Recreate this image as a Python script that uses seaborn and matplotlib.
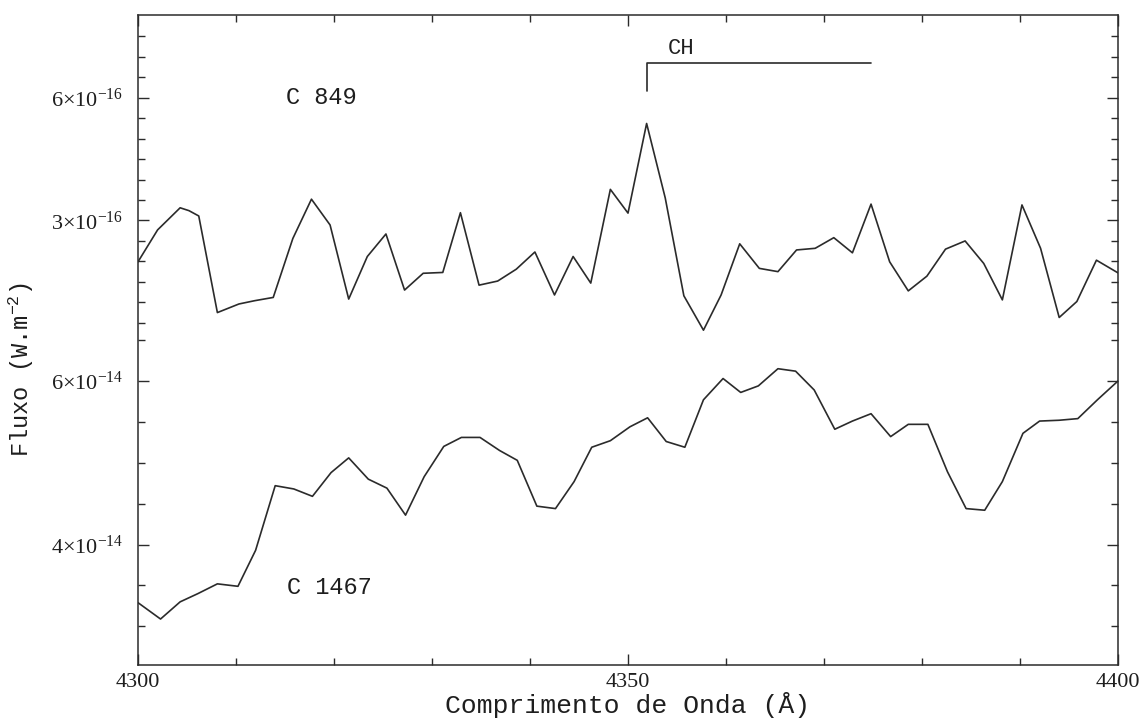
import numpy as np
import pandas as pd
import matplotlib
matplotlib.use("Agg")
import matplotlib.pyplot as plt
import seaborn as sns

# ---------------- data ----------------
# C 849 (upper spectrum), flux in units of 1e-16 W m^-2
wl_c849 = [4300.0, 4302.0, 4304.3, 4305.2, 4306.2, 4308.1, 4310.3, 4311.9, 4313.8,
           4315.8, 4317.7, 4319.6, 4321.5, 4323.4, 4325.3, 4327.2, 4329.1, 4331.1,
           4332.9, 4334.8, 4336.7, 4338.6, 4340.5, 4342.5, 4344.4, 4346.2, 4348.2,
           4350.0, 4351.9, 4353.8, 4355.7, 4357.7, 4359.5, 4361.4, 4363.4, 4365.3,
           4367.2, 4369.1, 4371.0, 4372.9, 4374.8, 4376.7, 4378.6, 4380.5, 4382.4,
           4384.4, 4386.3, 4388.2, 4390.2, 4392.1, 4394.0, 4395.8, 4397.8, 4400.0]
flux_c849 = [1.99, 2.77, 3.31, 3.24, 3.11, 0.75, 0.96, 1.04, 1.12,
             2.56, 3.52, 2.89, 1.08, 2.12, 2.67, 1.30, 1.71, 1.73,
             3.19, 1.42, 1.52, 1.81, 2.23, 1.18, 2.12, 1.47, 3.76,
             3.18, 5.37, 3.55, 1.16, 0.32, 1.18, 2.43, 1.83, 1.75,
             2.28, 2.32, 2.58, 2.21, 3.40, 1.99, 1.28, 1.64, 2.30,
             2.50, 1.95, 1.06, 3.38, 2.32, 0.63, 1.02, 2.03, 1.72]

# C 1467 (lower spectrum), flux in units of 1e-14 W m^-2
wl_c1467 = [4300.0, 4302.3, 4304.3, 4306.1, 4308.1, 4310.2, 4312.0, 4314.0, 4315.9,
            4317.8, 4319.7, 4321.5, 4323.5, 4325.4, 4327.3, 4329.2, 4331.2, 4333.0,
            4334.9, 4336.9, 4338.7, 4340.7, 4342.6, 4344.5, 4346.3, 4348.2, 4350.2,
            4352.0, 4353.9, 4355.8, 4357.7, 4359.7, 4361.5, 4363.3, 4365.3, 4367.1,
            4369.0, 4371.1, 4372.9, 4374.8, 4376.8, 4378.6, 4380.6, 4382.6, 4384.5,
            4386.4, 4388.2, 4390.3, 4392.0, 4394.0, 4395.9, 4397.9, 4400.0]
flux_c1467 = [3.29, 3.09, 3.30, 3.40, 3.52, 3.49, 3.93, 4.72, 4.68,
              4.59, 4.88, 5.06, 4.80, 4.69, 4.36, 4.83, 5.20, 5.31,
              5.31, 5.15, 5.03, 4.47, 4.44, 4.77, 5.19, 5.27, 5.44,
              5.55, 5.26, 5.19, 5.77, 6.03, 5.86, 5.94, 6.15, 6.12,
              5.89, 5.41, 5.51, 5.60, 5.32, 5.47, 5.47, 4.89, 4.44,
              4.42, 4.77, 5.36, 5.51, 5.52, 5.54, 5.77, 6.00]

# CH band marker (wavelength range) and labels
ch_band = [4351.9, 4374.8]
star_labels = ["C 849", "C 1467"]

x_major = [4300, 4350, 4400]
x_major_labels = ["4300", "4350", "4400"]
upper_major = [3e-16, 6e-16]
upper_major_labels = [r"$3{\times}10^{-16}$", r"$6{\times}10^{-16}$"]
lower_major = [4e-14, 6e-14]
lower_major_labels = [r"$4{\times}10^{-14}$", r"$6{\times}10^{-14}$"]

# ---------------- style ----------------
sns.set_theme(style="ticks")
plt.rcParams["font.family"] = ["Liberation Serif", "DejaVu Serif"]
plt.rcParams["mathtext.fontset"] = "stix"
LINE = "#2b2b2b"
TXT = "#1e1e1e"
mono = ["Liberation Mono", "DejaVu Sans Mono"]

fig = plt.figure(figsize=(11.46, 7.24), dpi=100)
fig.patch.set_facecolor("white")
pos = [138 / 1146, 59 / 724, (1118 - 138) / 1146, (665 - 15) / 724]
ax_low = fig.add_axes(pos)
ax_up = fig.add_axes(pos, sharex=ax_low)
ax_up.patch.set_visible(False)
for s in ax_up.spines.values():
    s.set_visible(False)
for s in ax_low.spines.values():
    s.set_color(LINE)
    s.set_linewidth(1.1)

df_low = pd.DataFrame({"wl": wl_c1467, "flux": np.array(flux_c1467) * 1e-14})
df_up = pd.DataFrame({"wl": wl_c849, "flux": np.array(flux_c849) * 1e-16})

sns.lineplot(data=df_low, x="wl", y="flux", ax=ax_low, color=LINE, lw=1.2,
             estimator=None, sort=False)
sns.lineplot(data=df_up, x="wl", y="flux", ax=ax_up, color=LINE, lw=1.2,
             estimator=None, sort=False)

ax_low.set_xlim(4300, 4400)
ax_low.set_ylim(2.528e-14, 10.474e-14)
ax_up.set_ylim(-7.86e-16, 8.02e-16)

# x ticks
ax_low.set_xticks(x_major, labels=x_major_labels)
ax_low.set_xticks(np.arange(4310, 4400, 10), minor=True)
ax_low.tick_params(axis="x", which="both", direction="in", top=True, bottom=True,
                   color=LINE, width=1.0, labelsize=16, pad=6)
ax_low.tick_params(axis="x", which="major", length=8)
ax_low.tick_params(axis="x", which="minor", length=5)

# lower y ticks
ax_low.set_yticks(lower_major, labels=lower_major_labels)
ax_low.set_yticks([3.0e-14, 3.5e-14, 4.5e-14, 5.0e-14, 5.5e-14, 6.5e-14], minor=True)
ax_low.tick_params(axis="y", which="both", direction="in", left=True, right=True,
                   color=LINE, width=1.0, labelsize=16, pad=11)
ax_low.tick_params(axis="y", which="major", length=8)
ax_low.tick_params(axis="y", which="minor", length=5)

# upper y ticks
ax_up.set_yticks(upper_major, labels=upper_major_labels)
ax_up.set_yticks([v * 1e-16 for v in [0.5, 1.0, 1.5, 2.0, 2.5, 3.5, 4.0, 4.5, 5.0, 5.5, 6.5, 7.0, 7.5]],
                 minor=True)
ax_up.tick_params(axis="y", which="both", direction="in", left=True, right=True,
                  color=LINE, width=1.0, labelsize=16, pad=11)
ax_up.tick_params(axis="y", which="major", length=8)
ax_up.tick_params(axis="y", which="minor", length=5)
ax_up.tick_params(axis="x", which="both", bottom=False, top=False,
                  labelbottom=False, labeltop=False)

for ax in (ax_low, ax_up):
    for lab in ax.get_xticklabels() + ax.get_yticklabels():
        lab.set_color(TXT)

plt.rcParams["mathtext.default"] = "regular"
ax_up.set_xlabel("")
ax_up.set_ylabel("")
ax_low.set_xlabel("Comprimento de Onda (Å)", family=mono, fontsize=19,
                  color=TXT, labelpad=0)
ax_low.set_ylabel(r"Fluxo (W.m$^{-2}$)", family=mono, fontsize=17, color=TXT)
ax_low.yaxis.set_label_coords(-0.104, 0.455)

# annotations
ax_up.text(4318.7, 6.0e-16, star_labels[0], family=mono, fontsize=17,
           ha="center", va="center", color=TXT)
ax_low.text(4319.5, 3.48e-14, star_labels[1], family=mono, fontsize=17,
            ha="center", va="center", color=TXT)
ax_up.plot([ch_band[0], ch_band[0], ch_band[1]], [6.17e-16, 6.84e-16, 6.84e-16],
           color=LINE, lw=1.2)
ax_up.text(4355.4, 7.21e-16, "CH", family=mono, fontsize=16,
           ha="center", va="center", color=TXT)

fig.savefig("out.png", dpi=100, facecolor="white")
